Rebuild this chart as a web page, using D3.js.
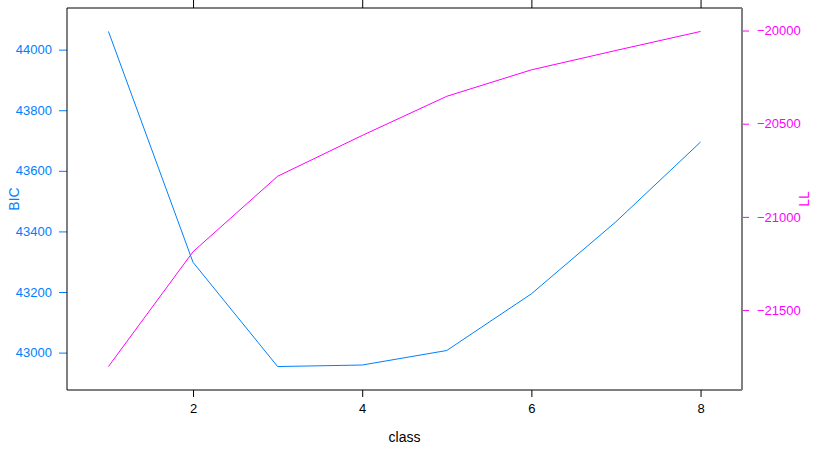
<!DOCTYPE html>
<html>
<head>
<meta charset="utf-8">
<script src="https://cdn.jsdelivr.net/npm/d3@7"></script>
<style>
  body { margin: 0; background: #fff; }
  text { font-family: "Liberation Sans", Arial, sans-serif; }
</style>
</head>
<body>
<script>
// model selection by number of classes
let classes = [1, 2, 3, 4, 5, 6, 7, 8];
let bic = [44060, 43298, 42954, 42959, 43007, 43194, 43432, 43695];
let ll = [-21803, -21187, -20782, -20563, -20353, -20211, -20107, -20005];

let x_ticks = [2, 4, 6, 8];
let bic_ticks = [43000, 43200, 43400, 43600, 43800, 44000];
let ll_ticks = [-21500, -21000, -20500, -20000];

let bic_col = "#0080ff";
let ll_col = "#ff00ff";

let width = 815, height = 451;
let margin = { top: 8, right: 73, bottom: 61, left: 67 };

// lattice style padding: 7% of the range on each side
function padded(v) {
  let e = d3.extent(v);
  let p = (e[1] - e[0]) * 0.07;
  return [e[0] - p, e[1] + p];
}

let svg = d3.select("body").append("svg")
  .attr("width", width).attr("height", height);

let x = d3.scaleLinear()
  .domain(padded(classes))
  .range([margin.left, width - margin.right]);
let y_bic = d3.scaleLinear()
  .domain(padded(bic))
  .range([height - margin.bottom, margin.top]);
let y_ll = d3.scaleLinear()
  .domain(padded(ll))
  .range([height - margin.bottom, margin.top]);

let axis_bottom = svg.append("g")
  .attr("transform", `translate(0,${height - margin.bottom})`)
  .call(d3.axisBottom(x).tickValues(x_ticks).tickSize(7).tickSizeOuter(0).tickPadding(7));
let axis_top = svg.append("g")
  .attr("transform", `translate(0,${margin.top})`)
  .call(d3.axisTop(x).tickValues(x_ticks).tickSize(8).tickSizeOuter(0).tickFormat(""));
let axis_left = svg.append("g")
  .attr("transform", `translate(${margin.left},0)`)
  .call(d3.axisLeft(y_bic).tickValues(bic_ticks).tickSize(8).tickSizeOuter(0).tickPadding(7).tickFormat(d3.format("d")));
let axis_right = svg.append("g")
  .attr("transform", `translate(${width - margin.right},0)`)
  .call(d3.axisRight(y_ll).tickValues(ll_ticks).tickSize(7).tickSizeOuter(0).tickPadding(8).tickFormat(d3.format("d")));

[axis_bottom, axis_top, axis_left, axis_right].forEach(a => {
  a.select(".domain").remove();
  a.selectAll("text").attr("font-size", 13).attr("font-family", null);
});
axis_bottom.selectAll("line").attr("stroke", "#000");
axis_bottom.selectAll("text").attr("fill", "#000");
axis_top.selectAll("line").attr("stroke", "#000");
axis_left.selectAll("line").attr("stroke", bic_col);
axis_left.selectAll("text").attr("fill", bic_col);
axis_right.selectAll("line").attr("stroke", ll_col);
axis_right.selectAll("text").attr("fill", ll_col);

// panel border, right side grey as in the original
let x0 = margin.left, x1 = width - margin.right;
let y0 = margin.top, y1 = height - margin.bottom;
svg.append("path")
  .attr("d", `M${x1},${y0}H${x0}V${y1}H${x1}`)
  .attr("fill", "none").attr("stroke", "#000").attr("stroke-width", 1);
svg.append("line")
  .attr("x1", x1).attr("x2", x1).attr("y1", y0).attr("y2", y1)
  .attr("stroke", "#808080").attr("stroke-width", 2);

let line_bic = d3.line().x((d, i) => x(classes[i])).y(d => y_bic(d));
let line_ll = d3.line().x((d, i) => x(classes[i])).y(d => y_ll(d));

svg.append("path").datum(bic)
  .attr("d", line_bic).attr("fill", "none").attr("stroke", bic_col).attr("stroke-width", 1);
svg.append("path").datum(ll)
  .attr("d", line_ll).attr("fill", "none").attr("stroke", ll_col).attr("stroke-width", 1);

// axis titles
let mid_y = (y0 + y1) / 2;
svg.append("text").text("class")
  .attr("x", (x0 + x1) / 2).attr("y", 442)
  .attr("text-anchor", "middle").attr("font-size", 14).attr("fill", "#000");
svg.append("text").text("BIC")
  .attr("transform", `translate(19,${mid_y}) rotate(-90)`)
  .attr("text-anchor", "middle").attr("font-size", 14).attr("fill", bic_col);
svg.append("text").text("LL")
  .attr("transform", `translate(809,${mid_y}) rotate(-90)`)
  .attr("text-anchor", "middle").attr("font-size", 14).attr("fill", ll_col);
</script>
</body>
</html>
